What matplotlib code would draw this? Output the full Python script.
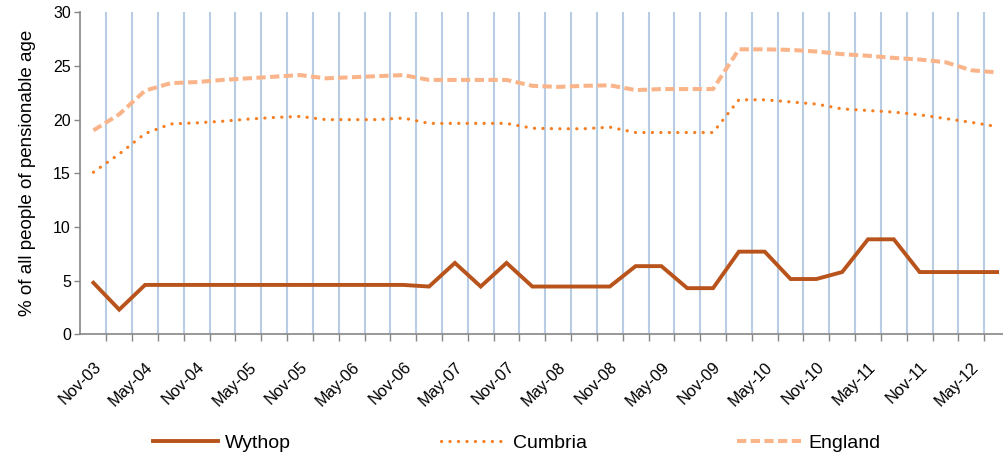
import numpy as np
import matplotlib
matplotlib.use('Agg')
import matplotlib.pyplot as plt

plt.rcParams['font.family'] = ['Liberation Sans', 'DejaVu Sans']

quarters = ['Nov-03', 'Feb-04', 'May-04', 'Aug-04', 'Nov-04', 'Feb-05', 'May-05', 'Aug-05',
            'Nov-05', 'Feb-06', 'May-06', 'Aug-06', 'Nov-06', 'Feb-07', 'May-07', 'Aug-07',
            'Nov-07', 'Feb-08', 'May-08', 'Aug-08', 'Nov-08', 'Feb-09', 'May-09', 'Aug-09',
            'Nov-09', 'Feb-10', 'May-10', 'Aug-10', 'Nov-10', 'Feb-11', 'May-11', 'Aug-11',
            'Nov-11', 'Feb-12', 'May-12', 'Aug-12']

wythop = [4.8, 2.3, 4.6, 4.6, 4.6, 4.6, 4.6, 4.6, 4.6, 4.6, 4.6, 4.6,
          4.6, 4.45, 6.65, 4.45, 6.65, 4.45, 4.45, 4.45, 4.45, 6.35, 6.35, 4.3,
          4.3, 7.7, 7.7, 5.15, 5.15, 5.8, 8.85, 8.85, 5.8, 5.8, 5.8, 5.8]

cumbria = [15.1, 16.8, 18.7, 19.6, 19.7, 19.85, 20.05, 20.2, 20.3, 20.0, 20.0, 20.0,
           20.15, 19.65, 19.65, 19.65, 19.65, 19.2, 19.15, 19.15, 19.3, 18.8, 18.8, 18.8,
           18.8, 21.85, 21.85, 21.65, 21.45, 21.0, 20.85, 20.7, 20.45, 20.1, 19.75, 19.35]

england = [19.0, 20.5, 22.7, 23.4, 23.5, 23.7, 23.85, 24.0, 24.15, 23.85, 23.95, 24.05,
           24.15, 23.7, 23.7, 23.7, 23.7, 23.15, 23.05, 23.15, 23.2, 22.75, 22.85, 22.85,
           22.85, 26.55, 26.55, 26.5, 26.35, 26.1, 25.95, 25.75, 25.6, 25.35, 24.6, 24.4]

x = np.arange(len(quarters))

fig = plt.figure(figsize=(10.04, 4.55), dpi=100)
ax = fig.add_axes([80.5 / 1004, 120.7 / 455, 929.5 / 1004, 322 / 455])

ax.plot(x, wythop, color='#B9531C', lw=2.8, solid_joinstyle='miter', label='Wythop', zorder=3)
ax.plot(x, cumbria, color='#F57F22', lw=2.3, linestyle=(0, (0.05, 2.6)),
        dash_capstyle='round', label='Cumbria', zorder=3)
ax.plot(x, england, color='#F9B48A', lw=2.9, linestyle=(0, (2.3, 1.1)),
        label='England', zorder=3)

ax.set_xlim(-0.5, len(quarters) - 0.5)
ax.set_ylim(0, 30)
ax.set_yticks(np.arange(0, 31, 5))

ax.set_xticks(x[::2])
ax.set_xticklabels(quarters[::2], rotation=45, ha='right', va='top',
                   rotation_mode='anchor', fontsize=11.8)
ax.set_xticks(np.arange(0.5, len(quarters) - 1, 1), minor=True)
ax.tick_params(axis='x', which='major', length=0, pad=18)
ax.tick_params(axis='x', which='minor', length=5, width=1, color='#868686', direction='out')
ax.grid(True, axis='x', which='minor', color='#B8CCE4', lw=1.5)
ax.tick_params(axis='y', length=4, width=1, color='#868686', labelsize=11.5, pad=3)

for side in ['top', 'right']:
    ax.spines[side].set_visible(False)
for side in ['left', 'bottom']:
    ax.spines[side].set_color('#868686')
    ax.spines[side].set_linewidth(1.2)

ax.set_ylabel('% of all people of pensionable age', fontsize=13.5, labelpad=12)

fig.legend(loc='center', bbox_to_anchor=(0.515, 0.027), ncol=3, frameon=False,
           fontsize=14, handlelength=3.3, handletextpad=0.4, columnspacing=7.7)

fig.savefig('out.png', dpi=100)
